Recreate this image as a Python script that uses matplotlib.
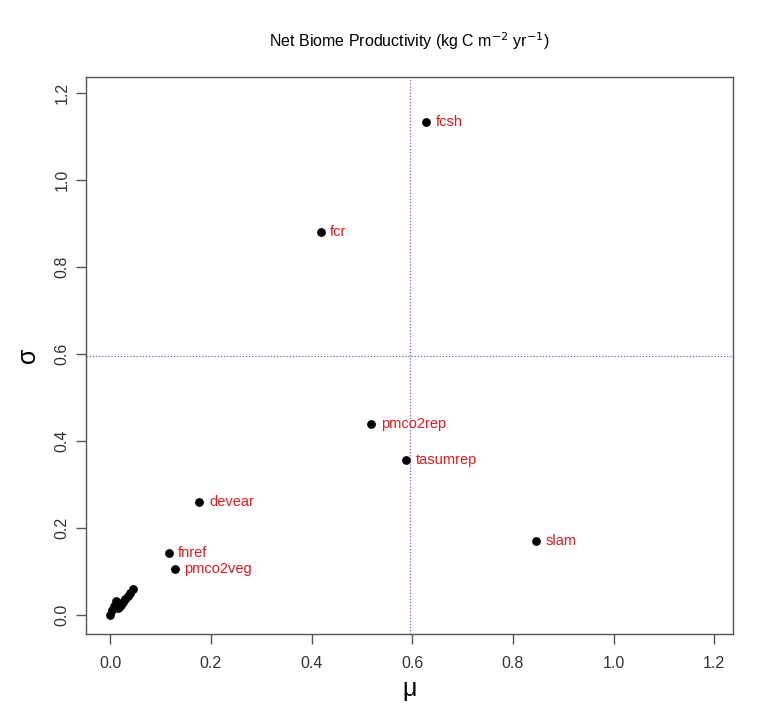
import matplotlib
matplotlib.use("Agg")
import matplotlib.pyplot as plt

plt.rcParams['font.family'] = ['Liberation Sans', 'DejaVu Sans']

# parameter names (labelled points) and their mean / sd
labels = ["fcsh", "fcr", "pmco2rep", "tasumrep", "slam", "devear", "fnref", "pmco2veg"]
mu = [0.628, 0.418, 0.519, 0.588, 0.845, 0.177, 0.116, 0.128]
sigma = [1.134, 0.880, 0.438, 0.355, 0.170, 0.260, 0.143, 0.104]

# unlabelled cluster near origin
mu_small = [0.0, 0.004, 0.008, 0.012, 0.015, 0.018, 0.022, 0.025, 0.03, 0.035, 0.04, 0.045]
sigma_small = [0.0, 0.01, 0.02, 0.032, 0.015, 0.017, 0.022, 0.03, 0.036, 0.042, 0.05, 0.058]

mu_mean = 0.596
sigma_mean = 0.596

fig = plt.figure(figsize=(7.61, 7.21), dpi=100)
ax = fig.add_axes([0.113, 0.121, 0.85, 0.772])

ax.scatter(mu_small, sigma_small, s=28, color="black", zorder=3)
ax.scatter(mu, sigma, s=28, color="black", zorder=3)
for lab, x, y in zip(labels, mu, sigma):
    ax.annotate(lab, (x, y), xytext=(7, 0), textcoords="offset points",
                va="center", ha="left", color="#e41a1c", fontsize=10.5)

ax.axvline(mu_mean, color="#6666cc", linestyle=(0, (1, 1.5)), linewidth=0.9)
ax.axhline(sigma_mean, color="#6666cc", linestyle=(0, (1, 1.5)), linewidth=0.9)

ax.set_xlim(-0.048, 1.237)
ax.set_ylim(-0.044, 1.237)
ticks = [0.0, 0.2, 0.4, 0.6, 0.8, 1.0, 1.2]
ax.set_xticks(ticks)
ax.set_yticks(ticks)
ax.set_xticklabels(["%.1f" % t for t in ticks])
ax.set_yticklabels(["%.1f" % t for t in ticks], rotation=90, va="center")
ax.tick_params(direction="out", length=7, width=1, color="#555555",
               labelsize=11.5, labelcolor="#333333")
ax.tick_params(axis="x", pad=9)
ax.tick_params(axis="y", pad=5)

for sp in ax.spines.values():
    sp.set_color("#555555")
    sp.set_linewidth(1)

ax.set_xlabel("\u03bc", fontsize=18, labelpad=4)
ax.set_ylabel("\u03c3", fontsize=18, labelpad=10)
ax.set_title("Net Biome Productivity (kg C m$^{-2}$ yr$^{-1}$)", fontsize=11.5, pad=22)

fig.savefig("out.png", dpi=100)
